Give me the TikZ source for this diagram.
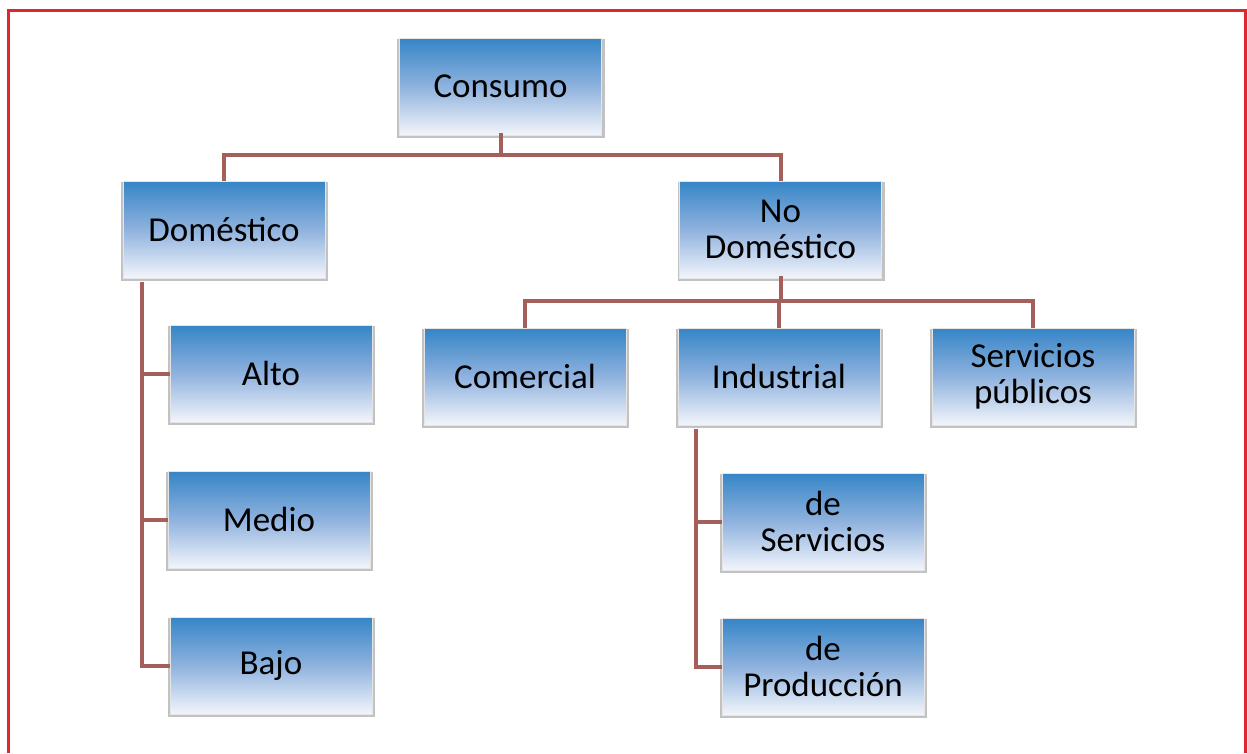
\documentclass[tikz,border=0pt]{standalone}
\usepackage{fontspec}
\setmainfont{Carlito}
\usetikzlibrary{shadows,calc}
\definecolor{conn}{HTML}{A55F5A}
\definecolor{frame}{HTML}{E0262E}
\definecolor{btop}{HTML}{3585C7}
\definecolor{bmid}{HTML}{8FB2DE}
\definecolor{bbot}{HTML}{F2F5FB}
\tikzset{
  box/.style={rectangle, minimum width=202pt, minimum height=97pt, inner sep=0pt,
    top color=btop, bottom color=bbot, middle color=bmid,
    draw=gray!20, line width=1pt, align=center,
    font=\fontsize{35}{36}\selectfont,
    general shadow={shadow xshift=0.5pt, shadow yshift=-2pt, shadow scale=1.025, fill=gray!48}},
  link/.style={draw=conn, line width=4pt},
}
\begin{document}
\begin{tikzpicture}[x=1pt,y=-1pt]
\useasboundingbox (0,0) rectangle (1247,753);
\draw[frame, line width=3pt] (8,753) -- (8,10) -- (1245.5,10) -- (1245.5,753);

\node[box] (consumo) at (500.5,86.5) {Consumo};
\node[box] (dom) at (224,229.5) {Doméstico};
\node[box] (nodom) at (780.5,229.5) {No\\Doméstico};
\node[box] (alto) at (271,373.5) {Alto};
\node[box] (medio) at (269,519.5) {Medio};
\node[box] (bajo) at (271,665.5) {Bajo};
\node[box] (comercial) at (525,376.5) {Comercial};
\node[box] (industrial) at (779,376.5) {Industrial};
\node[box] (publicos) at (1033,376.5) {Servicios\\públicos};
\node[box] (deserv) at (823,521.5) {de\\Servicios};
\node[box] (deprod) at (823,666.5) {de\\Producción};

% Consumo branches
\coordinate (j1) at (500.5,155);
\draw[link] ([yshift=3pt]consumo.south) -- (j1);
\draw[link] (dom.north) |- (j1) -| (nodom.north);

% No Doméstico branches
\coordinate (j2) at (780.5,301);
\draw[link] ([yshift=3pt]nodom.south) -- (j2);
\draw[link] (comercial.north) |- (j2) -| (publicos.north);
\draw[link] (industrial.north) -- (industrial.north |- j2);

% Doméstico spine
\coordinate (s1) at (142,282);
\draw[link] (s1) |- (bajo.west);
\draw[link] (alto.west) -- (alto.west -| s1);
\draw[link] (medio.west) -- (medio.west -| s1);

% Industrial spine
\coordinate (s2) at (696,429);
\draw[link] (s2) |- (deprod.west);
\draw[link] (deserv.west) -- (deserv.west -| s2);
\end{tikzpicture}
\end{document}
